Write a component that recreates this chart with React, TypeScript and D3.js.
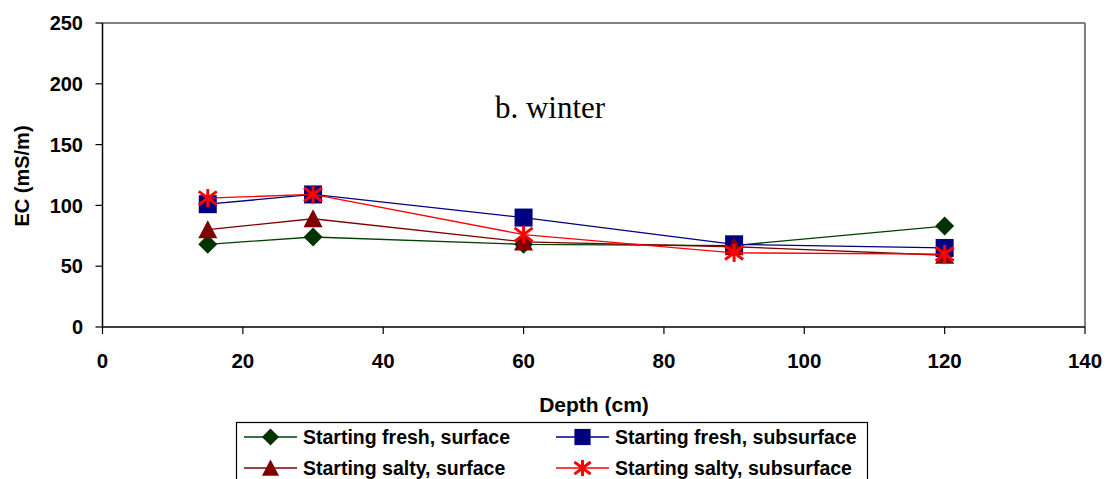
import React from "react";
import * as d3 from "d3";

const depths = [15, 30, 60, 90, 120];
const freshSurface = [68, 74, 68, 67, 83];
const freshSubsurface = [101, 109, 90, 68, 65];
const saltySurface = [80, 89, 70, 66, 59];
const saltySubsurface = [106, 109, 76, 61, 60];
const xTicks = [0, 20, 40, 60, 80, 100, 120, 140];
const yTicks = [0, 50, 100, 150, 200, 250];

type Shape = "diamond" | "square" | "triangle" | "star";
const series: { name: string; values: number[]; color: string; fill: string; shape: Shape }[] = [
  { name: "Starting fresh, surface", values: freshSurface, color: "#004000", fill: "#003300", shape: "diamond" },
  { name: "Starting fresh, subsurface", values: freshSubsurface, color: "#000080", fill: "#000080", shape: "square" },
  { name: "Starting salty, surface", values: saltySurface, color: "#800000", fill: "#800000", shape: "triangle" },
  { name: "Starting salty, subsurface", values: saltySubsurface, color: "#ff0000", fill: "none", shape: "star" },
];

const left = 102.5, right = 1085, top = 23, bottom = 327;
const x = d3.scaleLinear().domain([0, 140]).range([left, right]);
const y = d3.scaleLinear().domain([0, 250]).range([bottom, top]);
const line = d3.line<number>().x((_, i) => x(depths[i])).y((v) => y(v));

function Marker({ shape, cx, cy, color, fill, k = 1 }: { shape: Shape; cx: number; cy: number; color: string; fill: string; k?: number }) {
  if (shape === "diamond") {
    const r = 9.5 * k;
    return <path d={`M${cx},${cy - r}L${cx + r},${cy}L${cx},${cy + r}L${cx - r},${cy}Z`} fill={fill} />;
  }
  if (shape === "square") {
    const s = 9 * k;
    return <rect x={cx - s} y={cy - s} width={2 * s} height={2 * s} fill={fill} />;
  }
  if (shape === "triangle") {
    const s = 9.5 * k;
    return <path d={`M${cx},${cy - s}L${cx + s},${cy + s * 0.9}L${cx - s},${cy + s * 0.9}Z`} fill={fill} />;
  }
  const r = 9 * k;
  return (
    <g stroke={color} strokeWidth={3}>
      <line x1={cx} y1={cy - r} x2={cx} y2={cy + r} />
      <line x1={cx - r} y1={cy - r * 0.75} x2={cx + r} y2={cy + r * 0.75} />
      <line x1={cx - r} y1={cy + r * 0.75} x2={cx + r} y2={cy - r * 0.75} />
    </g>
  );
}

export default function App() {
  const font = "Liberation Sans, Arial, sans-serif";
  const legendPos = [
    { lx: 244, ly: 437 },
    { lx: 556, ly: 437 },
    { lx: 244, ly: 468 },
    { lx: 556, ly: 468 },
  ];
  return (
    <svg width={1107} height={479} style={{ position: "absolute", left: 0, top: 0 }}>
      <rect width={1107} height={479} fill="#fff" />
      {/* plot frame */}
      <line x1={left} y1={top} x2={right} y2={top} stroke="#808080" strokeWidth={2} />
      <line x1={right} y1={top} x2={right} y2={bottom} stroke="#808080" strokeWidth={2} />
      <line x1={left} y1={top} x2={left} y2={bottom} stroke="#000" strokeWidth={1.5} />
      <line x1={left} y1={bottom} x2={right} y2={bottom} stroke="#000" strokeWidth={1.5} />
      {yTicks.map((t) => (
        <g key={"y" + t}>
          <line x1={left - 7} x2={left} y1={y(t)} y2={y(t)} stroke="#000" strokeWidth={1.2} />
          <text x={83} y={y(t)} dy="0.36em" textAnchor="end" fontFamily={font} fontWeight="bold" fontSize={20}>
            {t}
          </text>
        </g>
      ))}
      {xTicks.map((t) => (
        <g key={"x" + t}>
          <line x1={x(t)} x2={x(t)} y1={bottom} y2={bottom + 7} stroke="#000" strokeWidth={1.2} />
          <text x={x(t)} y={368} textAnchor="middle" fontFamily={font} fontWeight="bold" fontSize={20.5}>
            {t}
          </text>
        </g>
      ))}
      <text x={594} y={412} textAnchor="middle" fontFamily={font} fontWeight="bold" fontSize={21}>
        Depth (cm)
      </text>
      <text
        transform="translate(29,176) rotate(-90)"
        textAnchor="middle"
        fontFamily={font}
        fontWeight="bold"
        fontSize={20}
      >
        EC (mS/m)
      </text>
      <text x={550} y={118} textAnchor="middle" fontFamily="Liberation Serif, Times New Roman, serif" fontSize={31}>
        b. winter
      </text>
      {series.map((s) => (
        <g key={s.name}>
          <path d={line(s.values) || ""} fill="none" stroke={s.color} strokeWidth={1.3} />
          {s.values.map((v, i) => (
            <Marker key={i} shape={s.shape} cx={x(depths[i])} cy={y(v)} color={s.color} fill={s.fill} />
          ))}
        </g>
      ))}
      {/* legend */}
      <rect x={236.5} y={422.5} width={631} height={70} fill="#fff" stroke="#000" strokeWidth={1.2} />
      {series.map((s, i) => {
        const { lx, ly } = legendPos[i];
        return (
          <g key={"lg" + i}>
            <line x1={lx} x2={lx + 53} y1={ly} y2={ly} stroke={s.color} strokeWidth={1.3} />
            <Marker shape={s.shape} cx={lx + 26.5} cy={ly} color={s.color} fill={s.fill} k={0.9} />
            <text x={lx + 59} y={ly} dy="0.36em" fontFamily={font} fontWeight="bold" fontSize={19.5}>
              {s.name}
            </text>
          </g>
        );
      })}
    </svg>
  );
}
